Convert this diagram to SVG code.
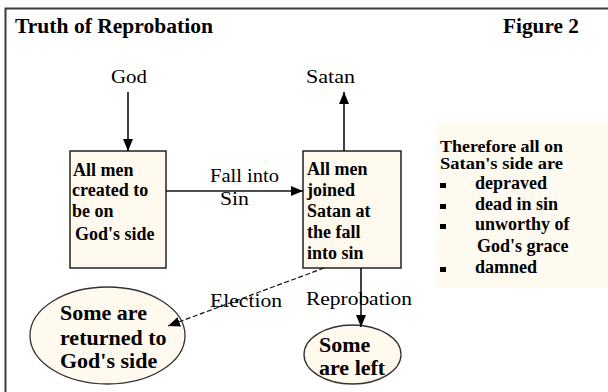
<svg xmlns="http://www.w3.org/2000/svg" width="608" height="392" viewBox="0 0 608 392">
  <style>
    .frame { fill: none; stroke: #3a3a3a; stroke-width: 2; }
    .box { fill: #fff9ee; stroke: #222; stroke-width: 1.5; }
    .oval { fill: #fff9ee; stroke: #333; stroke-width: 1.3; }
    .panel { fill: #fffaf0; }
    .edge { fill: none; stroke: #111; stroke-width: 1.6; }
    .dash { stroke-dasharray: 5 2.5; stroke-width: 1.2; }
    .t { font-family: "Liberation Serif", "Times New Roman", serif; fill: #000; }
    .reg { font-size: 19px; }
    .bold { font-size: 18px; font-weight: bold; }
    .small { font-size: 16px; font-weight: bold; }
    .big { font-size: 22px; font-weight: bold; }
    .head { font-size: 20px; font-weight: bold; }
  </style>
  <defs>
    <marker id="arrow" viewBox="0 0 12 10" refX="12" refY="5" markerWidth="12" markerHeight="10" markerUnits="userSpaceOnUse" orient="auto">
      <path d="M0,0 L12,5 L0,10 Z" fill="#000"/>
    </marker>
  </defs>

  <rect width="608" height="392" fill="#fff"/>
  <rect class="frame" x="5.5" y="8.5" width="720" height="500"/>

  <!-- headings -->
  <text class="t head" x="15" y="33" textLength="198" lengthAdjust="spacingAndGlyphs">Truth of Reprobation</text>
  <text class="t head" x="503" y="33" textLength="76" lengthAdjust="spacingAndGlyphs">Figure 2</text>

  <g id="god">
    <text class="t reg" x="111" y="83" textLength="36" lengthAdjust="spacingAndGlyphs">God</text>
  </g>

  <g id="satan">
    <text class="t reg" x="306" y="83" textLength="49" lengthAdjust="spacingAndGlyphs">Satan</text>
  </g>

  <g id="created">
    <rect class="box" x="70" y="151" width="96" height="117"/>
    <text class="t bold" x="73" y="176">All men</text>
    <text class="t bold" x="72" y="196">created to</text>
    <text class="t bold" x="72" y="217">be on</text>
    <text class="t bold" x="75" y="240">God's side</text>
  </g>

  <g id="joined">
    <rect class="box" x="303" y="151" width="98" height="117"/>
    <text class="t bold" x="307" y="175">All men</text>
    <text class="t bold" x="307" y="196">joined</text>
    <text class="t bold" x="307" y="217">Satan at</text>
    <text class="t bold" x="307" y="238">the fall</text>
    <text class="t bold" x="307" y="259">into sin</text>
  </g>

  <g id="returned">
    <ellipse class="oval" cx="107.5" cy="335.5" rx="77.5" ry="48.5"/>
    <text class="t big" x="60" y="320">Some are</text>
    <text class="t big" x="60" y="345">returned to</text>
    <text class="t big" x="60" y="368">God's side</text>
  </g>

  <g id="left">
    <ellipse class="oval" cx="352.5" cy="354.5" rx="48.5" ry="29.5"/>
    <text class="t big" x="319" y="352">Some</text>
    <text class="t big" x="319" y="375">are left</text>
  </g>

  <g id="therefore">
    <rect class="panel" x="437" y="124" width="171" height="164"/>
    <text class="t small" x="440" y="152" textLength="123" lengthAdjust="spacingAndGlyphs">Therefore all on</text>
    <text class="t small" x="440" y="169" textLength="123" lengthAdjust="spacingAndGlyphs">Satan's side are</text>
    <rect x="440" y="183" width="6" height="5" fill="#000"/>
    <text class="t bold" x="475" y="189">depraved</text>
    <rect x="440" y="204" width="6" height="5" fill="#000"/>
    <text class="t bold" x="475" y="210">dead in sin</text>
    <rect x="440" y="224" width="6" height="5" fill="#000"/>
    <text class="t bold" x="475" y="230">unworthy of</text>
    <text class="t bold" x="477" y="252">God's grace</text>
    <rect x="440" y="267" width="6" height="5" fill="#000"/>
    <text class="t bold" x="475" y="273">damned</text>
  </g>

  <!-- connectors drawn over the shapes -->
  <g id="connectors">
    <line class="edge" x1="128" y1="92" x2="128" y2="151" marker-end="url(#arrow)"/>
    <line class="edge" x1="344" y1="151" x2="344" y2="92" marker-end="url(#arrow)"/>
    <line class="edge" x1="166" y1="191" x2="303" y2="191" marker-end="url(#arrow)"/>
    <line class="edge dash" x1="324" y1="268" x2="168" y2="326" marker-end="url(#arrow)"/>
    <line class="edge" x1="361" y1="268" x2="361" y2="327" marker-end="url(#arrow)"/>
    <text class="t reg" x="210" y="182" textLength="69" lengthAdjust="spacingAndGlyphs">Fall into</text>
    <text class="t reg" x="220" y="205" textLength="29" lengthAdjust="spacingAndGlyphs">Sin</text>
    <text class="t reg" x="210" y="307" textLength="72" lengthAdjust="spacingAndGlyphs">Election</text>
    <text class="t reg" x="306" y="305" textLength="106" lengthAdjust="spacingAndGlyphs">Reprobation</text>
  </g>
</svg>
